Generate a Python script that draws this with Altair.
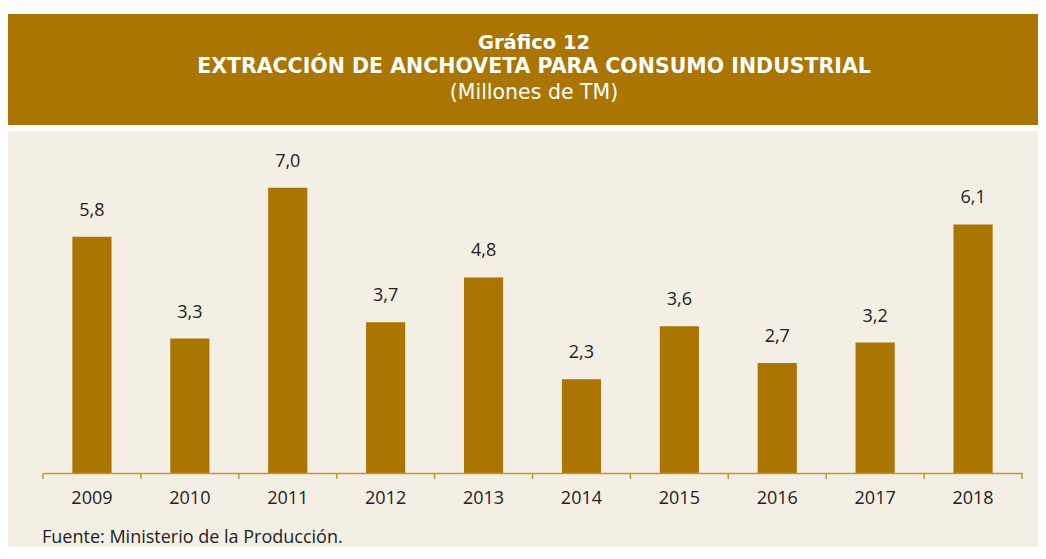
import altair as alt
import pandas as pd

years = ["2009", "2010", "2011", "2012", "2013", "2014", "2015", "2016", "2017", "2018"]
values = [5.8, 3.3, 7.0, 3.7, 4.8, 2.3, 3.6, 2.7, 3.2, 6.1]
labels = [f"{v:.1f}".replace(".", ",") for v in values]

title_lines = ["Gráfico 12", "EXTRACCIÓN DE ANCHOVETA PARA CONSUMO INDUSTRIAL", "(Millones de TM)"]
source_text = "Fuente: Ministerio de la Producción."

BROWN = "#AA7500"
BEIGE = "#F4EFE5"
AXIS = "#BF963F"
FONT = "Open Sans"
TFONT = "DejaVu Sans"

df = pd.DataFrame({"year": years, "value": values, "label": labels})
one = alt.Data(values=[{"a": 1}])

W, H = 979, 326
PAD_IN, PAD_OUT = 0.6, 0.3
HALF_GAP = PAD_OUT * W / 10  # distance from band edge to category boundary

header = alt.Chart(one).mark_rect(color=BROWN).encode(
    x=alt.value(-36), x2=alt.value(1010), y=alt.value(-133), y2=alt.value(-22)
)
panel = alt.Chart(one).mark_rect(color=BEIGE).encode(
    x=alt.value(-36), x2=alt.value(1010), y=alt.value(-16), y2=alt.value(420)
)

t1 = alt.Chart(one).mark_text(font=TFONT, fontSize=19.5, fontWeight="bold", color="white",
                              align="center", baseline="alphabetic").encode(
    x=alt.value(491), y=alt.value(-98.5), text=alt.value(title_lines[0]))
t2 = alt.Chart(one).mark_text(font=TFONT, fontSize=20.5, fontWeight="bold", color="white",
                              align="center", baseline="alphabetic").encode(
    x=alt.value(491), y=alt.value(-74.3), text=alt.value(title_lines[1]))
t3 = alt.Chart(one).mark_text(font=TFONT, fontSize=20.5, color="white",
                              align="center", baseline="alphabetic").encode(
    x=alt.value(491), y=alt.value(-48), text=alt.value(title_lines[2]))

src = alt.Chart(one).mark_text(font=FONT, fontSize=18, color="#222222",
                               align="left", baseline="alphabetic").encode(
    x=alt.value(-1), y=alt.value(396.3), text=alt.value(source_text))

xenc = alt.X("year:N", sort=years, title=None,
             scale=alt.Scale(paddingInner=PAD_IN, paddingOuter=PAD_OUT),
             axis=alt.Axis(labelAngle=0, labelFont=FONT, labelFontSize=18, labelColor="#222222",
                           labelBaseline="alphabetic", labelPadding=30,
                           domainColor=AXIS, domainWidth=1.5, ticks=False, zindex=1))
yenc = alt.Y("value:Q", scale=alt.Scale(domain=[0, 8]), axis=None)

bars = alt.Chart(df).mark_bar(color=BROWN).encode(x=xenc, y=yenc)
texts = alt.Chart(df).mark_text(font=FONT, fontSize=18, color="#222222", dy=-21,
                                align="center", baseline="alphabetic").encode(
    x=alt.X("year:N", sort=years), y=yenc, text="label:N")

ticks_left = alt.Chart(df).mark_rule(color=AXIS, strokeWidth=1.5, xOffset=-HALF_GAP).encode(
    x=alt.X("year:N", sort=years, bandPosition=0), y=alt.value(H), y2=alt.value(H + 6))
ticks_end = alt.Chart(df).transform_filter(
    alt.datum.year == years[-1]
).mark_rule(color=AXIS, strokeWidth=1.5, xOffset=HALF_GAP).encode(
    x=alt.X("year:N", sort=years, bandPosition=1), y=alt.value(H), y2=alt.value(H + 6))

chart = alt.layer(header, panel, t1, t2, t3, src, bars, texts, ticks_left, ticks_end).properties(
    width=W, height=H,
    autosize=alt.AutoSizeParams(type="none"),
    padding={"left": 35, "top": 139, "right": 16, "bottom": 74},
    background="white",
).configure_view(strokeWidth=0)

chart.save("out.html", embed_options={"renderer": "svg", "actions": False})
